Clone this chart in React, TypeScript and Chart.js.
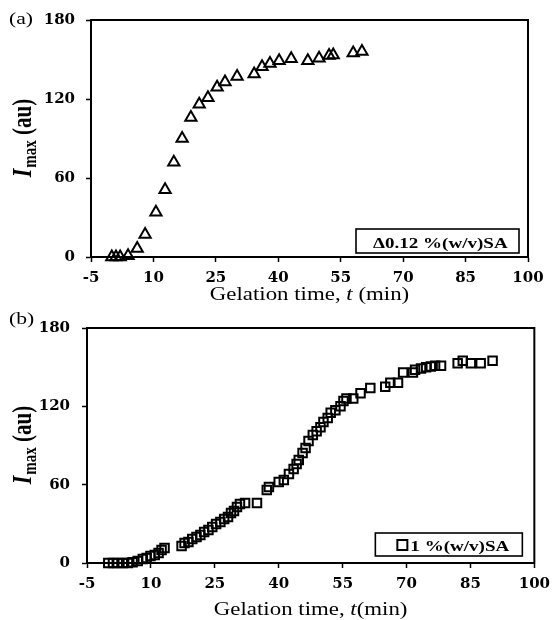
import React, { useEffect, useRef } from "react";
import { Chart, registerables } from "chart.js";

Chart.register(...registerables);

// ---------- data ----------
const xTickValues = [-5, 10, 25, 40, 55, 70, 85, 100];
const yTickValues = [0, 60, 120, 180];

const timeA = [0, 1, 2, 3.9, 6.1, 8, 10.6, 12.8, 14.9, 16.9, 19, 21, 23.1, 25.3, 27.2, 30.1, 34.2, 36.1, 38, 40.2, 43.1, 47.1, 49.8, 52.2, 53.2, 58, 60.1];
const imaxA = [0, 0, 0, 1, 6.5, 17, 34, 51, 72, 90, 106, 116, 121, 129, 133, 137, 139, 144.5, 147, 149, 150.5, 149, 151, 153, 153.5, 155, 156];

const timeB = [0, 1.1, 2.2, 3.4, 4.6, 5.7, 6.9, 8.1, 9.0, 9.9, 10.9, 11.8, 12.5, 13.2, 17.2, 17.9, 18.8, 19.7, 20.7, 21.6, 22.5, 23.5, 24.4, 25.3, 26.3, 27.2, 28.1, 28.8, 29.5, 30.2, 30.9, 32.1, 34.9, 37.2, 37.7, 40.0, 41.2, 42.4, 43.5, 44.2, 44.7, 45.6, 46.3, 47.0, 48.0, 48.9, 49.8, 50.5, 51.5, 52.2, 53.3, 54.5, 55.2, 55.9, 57.5, 59.2, 61.5, 65.0, 66.2, 68.0, 69.2, 71.5, 72.0, 73.4, 74.6, 75.7, 76.7, 78.1, 82.0, 83.2, 85.1, 87.4, 90.2];
const imaxB = [0, 0, 0, 0, 0, 0.5, 1.5, 3, 3.8, 5.4, 6.1, 7.7, 10, 11.5, 13, 15.3, 16, 18.4, 19.9, 21.4, 23.7, 25.3, 27.6, 29.9, 31.4, 33.7, 35.2, 38.3, 39.8, 42.9, 45.2, 46, 46, 55.9, 58.2, 62, 63.6, 68.2, 72, 75.8, 78.9, 84.2, 88.1, 93.4, 98, 101, 104, 108, 111, 115, 117, 120, 124, 126, 126, 130, 134, 135, 138, 138, 146, 146, 148, 149, 150, 150.5, 151, 151, 153, 155, 153, 153, 155];

const labelA = "0.12 %(w/v)SA";
const labelB = "1 %(w/v)SA";
const panelA = "(a)";
const panelB = "(b)";
const xTitleA = ["Gelation time, ", "t", " (min)"];
const xTitleB = ["Gelation time, ", "t", "(min)"];
const yTitle = ["I", "max", " (au)"];

// ---------- drawing helpers ----------
const SERIF = '"Liberation Serif", "Times New Roman", serif';
const SX = 1.27;

function drawYTitle(ctx: CanvasRenderingContext2D, cx: number, cy: number) {
  ctx.save();
  ctx.translate(cx, cy);
  ctx.rotate(-Math.PI / 2);
  ctx.scale(1, SX);
  ctx.fillStyle = "#000";
  ctx.textBaseline = "alphabetic";
  ctx.textAlign = "left";
  const fI = `italic bold 22px ${SERIF}`;
  const fSub = `bold 15px ${SERIF}`;
  const fRest = `bold 21px ${SERIF}`;
  ctx.font = fI;
  const wI = ctx.measureText(yTitle[0]).width;
  ctx.font = fSub;
  const wS = ctx.measureText(yTitle[1]).width;
  ctx.font = fRest;
  const wR = ctx.measureText(yTitle[2]).width;
  let x = -(wI + wS + wR) / 2;
  const base = 6;
  ctx.font = fI;
  ctx.fillText(yTitle[0], x, base);
  x += wI + 1;
  ctx.font = fSub;
  ctx.fillText(yTitle[1], x, base + 4);
  x += wS;
  ctx.font = fRest;
  ctx.fillText(yTitle[2], x, base);
  ctx.restore();
}

function drawXTitle(ctx: CanvasRenderingContext2D, parts: string[], cx: number, baseY: number) {
  ctx.save();
  ctx.fillStyle = "#000";
  ctx.textBaseline = "alphabetic";
  ctx.textAlign = "left";
  const fonts = [`18px ${SERIF}`, `italic 18px ${SERIF}`, `18px ${SERIF}`];
  const widths = parts.map((p, i) => {
    ctx.font = fonts[i];
    return ctx.measureText(p).width;
  });
  const total = widths.reduce((a, b) => a + b, 0);
  ctx.translate(cx - (total * SX) / 2, baseY);
  ctx.scale(SX, 1);
  let x = 0;
  parts.forEach((p, i) => {
    ctx.font = fonts[i];
    ctx.fillText(p, x, 0);
    x += widths[i];
  });
  ctx.restore();
}

function drawStretched(ctx: CanvasRenderingContext2D, text: string, x: number, y: number, font: string) {
  ctx.save();
  ctx.fillStyle = "#000";
  ctx.font = font;
  ctx.textBaseline = "alphabetic";
  ctx.textAlign = "left";
  ctx.translate(x, y);
  ctx.scale(SX, 1);
  ctx.fillText(text, 0, 0);
  ctx.restore();
}

const decorPlugin = {
  id: "decor",
  afterDraw(chart: any, _args: any, opts: any) {
    const { ctx, chartArea: ca } = chart;
    ctx.save();
    // frame
    ctx.strokeStyle = "#000";
    ctx.lineWidth = 2;
    ctx.strokeRect(ca.left, ca.top, ca.right - ca.left, ca.bottom - ca.top);

    // panel label
    drawStretched(ctx, opts.panel, opts.panelX, opts.panelY, `17px ${SERIF}`);

    // axis titles
    drawYTitle(ctx, opts.yTitleX, (ca.top + ca.bottom) / 2);
    drawXTitle(ctx, opts.xTitle, (ca.left + ca.right) / 2, opts.xTitleY);

    // legend box
    const bx = ca.right - opts.legRight - opts.legW;
    const by = ca.bottom - opts.legBottom - opts.legH;
    ctx.lineWidth = 1.6;
    ctx.strokeRect(bx, by, opts.legW, opts.legH);
    const font = `bold 15px ${SERIF}`;
    if (opts.marker === "triangle") {
      drawStretched(ctx, "\u0394" + opts.label, bx + opts.textDx, by + opts.textDy, font);
    } else {
      ctx.lineWidth = 2;
      ctx.strokeRect(bx + opts.textDx, by + 7, 10, 10);
      drawStretched(ctx, opts.label, bx + opts.textDx + 13, by + opts.textDy, font);
    }
    ctx.restore();
  },
};

function buildChart(canvas: HTMLCanvasElement, g: any) {
  return new Chart(canvas, {
    type: "scatter",
    data: {
      datasets: [
        {
          data: g.xs.map((x: number, i: number) => ({ x, y: g.ys[i] })),
          pointStyle: g.marker,
          pointRadius: g.radius,
          pointHoverRadius: g.radius,
          pointBorderWidth: 2,
          pointBackgroundColor: "rgba(0,0,0,0)",
          pointBorderColor: "#000",
          showLine: false,
          clip: false,
        } as any,
      ],
    },
    options: {
      animation: false,
      responsive: false,
      events: [],
      layout: { padding: { left: 0, top: g.top, right: g.width - g.right, bottom: 0 } },
      plugins: {
        legend: { display: false },
        tooltip: { enabled: false },
        decor: g.decor,
      } as any,
      scales: {
        x: {
          type: "linear",
          min: -5,
          max: 100,
          afterBuildTicks: (s: any) => {
            s.ticks = xTickValues.map((v) => ({ value: v }));
          },
          afterFit: (s: any) => {
            s.height = g.height - g.bottom;
          },
          grid: { drawOnChartArea: false, drawTicks: true, tickLength: 5, tickColor: "#000", tickWidth: 1.5 },
          border: { display: true, color: "#000", width: 2 },
          ticks: { color: "#000", padding: 7, maxRotation: 0, font: { family: "DejaVu Serif", weight: "bold", size: 15 } },
        },
        y: {
          type: "linear",
          min: 0,
          max: 180,
          afterBuildTicks: (s: any) => {
            s.ticks = yTickValues.map((v) => ({ value: v }));
          },
          afterFit: (s: any) => {
            s.width = g.left;
          },
          grid: { drawOnChartArea: false, drawTicks: true, tickLength: 5, tickColor: "#000", tickWidth: 1.5 },
          border: { display: true, color: "#000", width: 2 },
          ticks: { color: "#000", padding: g.yPad, font: { family: "DejaVu Serif", weight: "bold", size: 15 } },
        },
      },
    } as any,
    plugins: [decorPlugin as any],
  });
}

const geomA = {
  width: 557, height: 310, left: 91, right: 528, top: 17, bottom: 257, yPad: 11,
  xs: timeA, ys: imaxA, marker: "triangle", radius: 6.5,
  decor: {
    panel: panelA, panelX: 9, panelY: 24, yTitleX: 23, xTitle: xTitleA, xTitleY: 300,
    legRight: 9, legBottom: 4, legW: 163, legH: 24, textDx: 17, textDy: 19, marker: "triangle", label: labelA,
  },
};

const geomB = {
  width: 557, height: 320, left: 87, right: 537, top: 28, bottom: 263, yPad: 12,
  xs: timeB, ys: imaxB, marker: "rect", radius: 6,
  decor: {
    panel: panelB, panelX: 9, panelY: 24, yTitleX: 23, xTitle: xTitleB, xTitleY: 315,
    legRight: 12, legBottom: 7, legW: 147, legH: 23, textDx: 22, textDy: 18, marker: "rect", label: labelB,
  },
};

function Panel({ g, top }: { g: any; top: number }) {
  const ref = useRef<HTMLCanvasElement | null>(null);
  useEffect(() => {
    if (!ref.current) return;
    const c = buildChart(ref.current, g);
    return () => c.destroy();
  }, [g]);
  return (
    <canvas
      ref={ref}
      width={g.width}
      height={g.height}
      style={{ position: "absolute", left: 0, top, width: g.width, height: g.height }}
    />
  );
}

export default function App() {
  return (
    <div style={{ position: "absolute", left: 0, top: 0, width: 557, height: 620, background: "#fff" }}>
      <Panel g={geomA} top={0} />
      <Panel g={geomB} top={300} />
    </div>
  );
}
